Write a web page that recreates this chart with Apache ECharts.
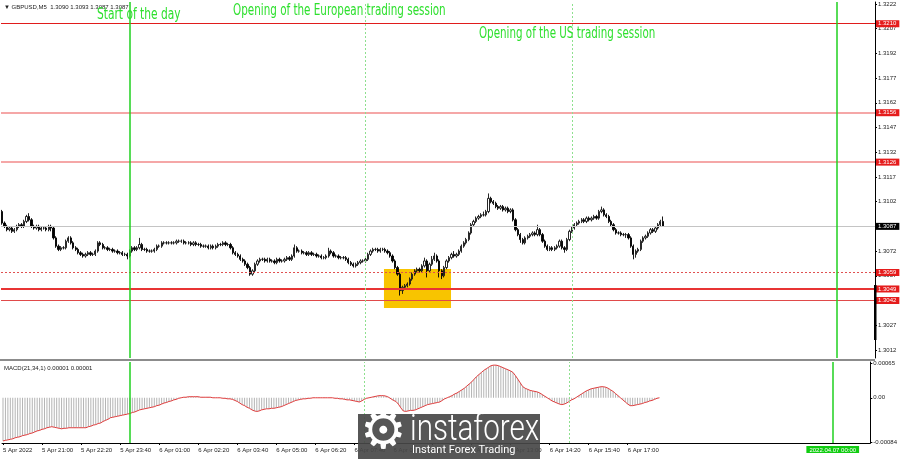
<!DOCTYPE html>
<html><head><meta charset="utf-8">
<script src="https://cdn.jsdelivr.net/npm/echarts@6/dist/echarts.min.js"></script>
<style>html,body{margin:0;padding:0;background:#fff}#c{width:900px;height:459px}</style>
</head><body><div id="c"></div><script>
// Prices in pips above 1.3000, one entry per 5-minute bar starting 5 Apr 19:40
const openPips = [96,89,87,85,86,84,85,87,88,87,
 90,93,91,87,86,87,85,86,86,85,
 87,86,80,75,73,74,74,78,80,77,
 74,73,71,70,69,70,71,70,70,72,
 77,76,74,74,73,73,72,72,71,71,
 70,70,69,72,74,73,74,76,73,73,
 72,72,72,73,75,75,77,77,77,77,
 77,77,78,78,78,77,77,77,76,77,
 76,76,75,75,75,74,75,74,75,76,
 76,77,76,76,74,71,70,69,67,66,
 64,62,58,60,64,66,67,67,66,67,
 66,66,65,67,66,66,67,68,67,69,
 74,72,72,71,71,70,71,70,70,69,
 69,68,68,69,72,71,69,69,68,68,
 68,67,65,64,63,64,65,66,66,67,
 70,72,73,73,72,73,73,72,71,69,
 66,62,58,48,50,51,52,55,58,60,
 61,60,63,66,60,64,67,69,66,60,
 57,62,66,68,70,69,70,72,75,77,
 79,83,88,90,92,93,94,94,96,104,
 102,101,99,98,99,97,98,96,97,91,
 85,82,79,77,80,81,82,83,82,85,
 82,78,75,73,74,73,74,75,78,74,
 73,79,84,86,88,89,90,91,90,92,
 91,92,93,92,96,97,94,93,90,88,
 85,83,83,82,82,82,80,75,70,72,
 73,78,80,81,83,85,84,86,88,90];
const closePips = [89,87,85,86,84,85,87,88,87,90,
 93,91,87,86,87,85,86,86,85,87,
 86,80,75,73,74,74,78,80,77,74,
 73,71,70,69,70,71,70,70,72,77,
 76,74,74,73,73,72,72,71,71,70,
 70,69,72,74,73,74,76,73,73,72,
 72,72,73,75,75,77,77,77,77,77,
 77,78,78,78,77,77,77,76,77,76,
 76,75,75,75,74,75,74,75,76,76,
 77,76,76,74,71,70,69,67,66,64,
 62,58,60,64,66,67,67,66,67,66,
 66,65,67,66,66,67,68,67,69,74,
 72,72,71,71,70,71,70,70,69,69,
 68,68,69,72,71,69,69,68,68,68,
 67,65,64,63,64,65,66,66,67,70,
 72,73,73,72,73,73,72,71,69,66,
 62,58,48,50,51,52,55,58,60,61,
 60,63,66,60,64,67,69,66,60,57,
 62,66,68,70,69,70,72,75,77,79,
 83,88,90,92,93,94,94,96,104,102,
 101,99,98,99,97,98,96,97,91,85,
 82,79,77,80,81,82,83,82,85,82,
 78,75,73,74,73,74,75,78,74,73,
 79,84,86,88,89,90,91,90,92,91,
 92,93,92,96,97,94,93,90,88,85,
 83,83,82,82,82,80,75,70,72,73,
 78,80,81,83,85,84,86,88,90,87];
const highPips = [97,90,88,87,87,86,88,89,89,91,
 94,95,92,88,88,88,87,87,87,88,
 88,87,81,76,75,75,79,81,81,78,
 75,74,72,71,71,72,72,71,73,78,
 78,77,75,75,74,74,73,73,72,72,
 71,71,73,75,75,75,80,77,74,74,
 73,73,74,76,76,78,78,78,78,78,
 78,79,79,79,79,78,78,78,78,78,
 77,77,76,76,76,76,76,76,77,77,
 78,78,77,77,75,72,71,70,68,67,
 65,63,61,65,67,68,68,68,68,68,
 67,67,68,68,67,68,69,69,70,76,
 75,73,73,72,72,72,72,71,71,70,
 70,69,70,74,73,72,70,70,69,69,
 69,68,66,65,65,66,67,67,68,71,
 73,74,74,74,74,74,74,73,72,70,
 67,63,59,51,52,53,56,59,61,62,
 62,64,68,67,65,69,71,70,67,61,
 63,67,69,71,72,71,73,76,78,80,
 84,89,91,93,94,95,96,97,107,105,
 103,102,100,100,100,99,99,98,98,92,
 86,83,80,81,82,83,84,84,88,86,
 83,79,76,75,75,75,76,79,79,75,
 80,85,87,89,90,91,92,92,93,93,
 93,94,94,97,99,98,95,94,91,89,
 86,84,84,83,83,83,81,76,73,74,
 79,81,82,84,86,86,87,89,91,93];
const lowPips = [88,86,84,84,83,83,84,86,86,86,
 89,90,86,85,85,84,84,85,84,84,
 84,79,74,72,72,73,73,77,76,73,
 72,70,69,68,68,69,69,69,69,71,
 75,73,73,72,72,71,71,70,70,69,
 69,67,68,71,72,72,73,72,72,71,
 71,71,71,72,74,74,76,76,76,76,
 76,76,77,77,76,76,76,75,75,75,
 75,74,74,74,73,73,73,73,74,75,
 75,75,75,73,70,69,68,66,65,63,
 61,57,57,59,63,65,66,65,65,65,
 65,64,64,65,65,65,66,66,66,68,
 71,71,70,70,69,69,69,69,68,68,
 67,67,67,68,70,68,68,67,67,67,
 66,64,63,62,62,63,64,65,65,66,
 69,71,72,71,71,72,71,70,68,65,
 61,57,45,46,49,50,51,54,57,59,
 59,59,62,56,59,63,66,65,56,55,
 56,61,65,67,68,68,69,71,74,76,
 78,82,87,89,91,92,93,93,95,101,
 100,98,97,97,96,96,95,95,90,84,
 81,77,76,76,79,80,81,81,81,81,
 77,74,72,72,72,72,73,74,73,71,
 72,78,83,85,87,88,89,89,89,90,
 90,91,91,91,95,93,92,89,87,84,
 82,82,81,81,80,79,74,67,68,71,
 72,77,79,80,82,83,83,85,87,87];
// MACD(21,34,1) in units of 0.00001
const macdVals = [-82,-81,-80,-79,-78,-76,-75,-74,-72,-71,
 -70,-68,-67,-65,-63,-62,-60,-59,-57,-56,
 -55,-56,-57,-58,-59,-58,-58,-57,-57,-57,
 -57,-57,-57,-57,-57,-55,-54,-52,-51,-49,
 -48,-45,-43,-41,-38,-37,-36,-35,-34,-33,
 -32,-31,-30,-28,-27,-25,-23,-22,-21,-20,
 -19,-18,-17,-15,-14,-12,-10,-9,-7,-6,
 -4,-3,-1,0,1,1,2,2,2,2,
 2,1,1,1,1,1,0,0,0,0,
 -1,-1,-2,-2,-3,-5,-7,-10,-13,-15,
 -18,-20,-23,-25,-26,-25,-23,-22,-21,-21,
 -20,-20,-19,-18,-17,-15,-13,-11,-9,-7,
 -5,-4,-3,-2,-2,-1,-1,0,0,0,
 0,0,0,0,0,0,-1,-1,-2,-2,
 -3,-4,-4,-5,-6,-7,-8,-6,-3,-1,
 0,1,2,3,4,4,4,3,1,-2,
 -5,-7,-12,-19,-25,-26,-25,-24,-24,-23,
 -21,-19,-17,-15,-13,-12,-11,-10,-9,-8,
 -5,-2,0,2,4,7,9,12,15,18,
 22,26,30,35,40,44,48,52,55,58,
 61,62,62,61,59,57,55,53,51,48,
 42,35,28,21,18,16,14,13,12,11,
 9,6,3,0,-3,-6,-8,-10,-12,-13,
 -12,-10,-7,-4,-2,1,4,7,10,13,
 15,17,18,19,20,21,21,20,18,15,
 12,8,4,0,-4,-8,-12,-15,-15,-14,
 -13,-12,-11,-9,-8,-6,-5,-3,-1,0];
const priceTicks = [1.3222,1.3207,1.3192,1.3177,1.3162,1.3147,1.3132,1.3117,1.3102,1.3072,1.3057,1.3042,1.3027,1.3012];
const macdTicks = [0.00065, 0, -0.00084];
const timeTickIdx = [0,16,32,48,64,80,96,112,128,144,160,176,192,208,224,240,256];
const timeTickText = ['5 Apr 2022','5 Apr 21:00','5 Apr 22:20','5 Apr 23:40','6 Apr 01:00','6 Apr 02:20','6 Apr 03:40','6 Apr 05:00','6 Apr 06:20','6 Apr 07:40','6 Apr 09:00','6 Apr 10:20','6 Apr 11:40','6 Apr 13:00','6 Apr 14:20','6 Apr 15:40','6 Apr 17:00'];
const levels = [1.3210, 1.3156, 1.3126, 1.3059, 1.3049, 1.3042];
const currentPrice = 1.3087;
const sessionIdx = [52, 148, 232, 340]; // 6 Apr 00:00, 08:00, 15:00, 7 Apr 00:00
const boxIdx = [155.5, 182.8];
const boxPrice = [1.30611, 1.30375];
const nextDayText = '2022.04.07 00:00';

const P = v => 1.3 + v / 10000;
const candleData = closePips.map((c, i) => [i, P(openPips[i]), P(c), P(lowPips[i]), P(highPips[i])]);
const macdData = macdVals.map((v, i) => [i, v * 1e-5]);

const FONT = 'Liberation Sans, Arial, sans-serif';
const NARROW = '15px "Liberation Sans Narrow", "DejaVu Sans Condensed", sans-serif';
const levelStyles = [
  {color: '#e01c1c', width: 1, type: 'solid'},
  {color: '#f28a8a', width: 1.5, type: 'solid'},
  {color: '#f28a8a', width: 1.5, type: 'solid'},
  {color: '#e05050', width: 1, type: [2, 2]},
  {color: '#e83434', width: 2, type: 'solid'},
  {color: '#e04a4a', width: 1, type: 'solid'}
];
const badge = (bg) => ({show: true, position: 'end', distance: 1, formatter: p => Number(p.value).toFixed(4),
  color: '#fff', backgroundColor: bg, fontSize: 6, fontFamily: FONT, padding: [1, 3, 0, 2], lineHeight: 6});
const vStyles = [
  {color: '#1fd01f', width: 1.5, type: 'solid'},
  {color: '#8ee08e', width: 1, type: [2, 2]},
  {color: '#8ee08e', width: 1, type: [2, 2]},
  {color: '#1fd01f', width: 1.5, type: 'solid'}
];
const mainLines = levels.map((v, k) => ({yAxis: v, lineStyle: levelStyles[k], label: badge('#e51c1c')}))
  .concat([{yAxis: currentPrice, lineStyle: {color: '#c4c4c4', width: 1, type: 'solid'}, label: badge('#000')}])
  .concat(sessionIdx.map((x, k) => ({xAxis: x, lineStyle: vStyles[k], label: {show: false}})));
const macdLines = sessionIdx.map((x, k) => ({xAxis: x, lineStyle: vStyles[k],
  label: k === 3 ? {show: true, position: 'start', distance: 3, formatter: nextDayText, color: '#fff',
    backgroundColor: '#11cc11', fontSize: 6, fontFamily: FONT, padding: [1, 3, 0, 3]} : {show: false}}));

const chart = echarts.init(document.getElementById('c'), null, {renderer: 'canvas'});
const XMIN = -0.4, XMAX = 355.4;
chart.setOption({
  animation: false,
  backgroundColor: '#fff',
  grid: [
    {left: 1, right: 25, top: 2, height: 356, containLabel: false},
    {left: 1, right: 25, top: 362, height: 81, containLabel: false}
  ],
  xAxis: [
    {type: 'value', gridIndex: 0, min: XMIN, max: XMAX, axisLine: {show: false, onZero: false}, axisTick: {show: false}, axisLabel: {show: false}, splitLine: {show: false}},
    {type: 'value', gridIndex: 1, min: XMIN, max: XMAX, position: 'bottom',
      axisLine: {show: true, onZero: false, lineStyle: {color: '#000', width: 1}},
      axisTick: {show: true, length: 2, customValues: timeTickIdx, lineStyle: {color: '#000'}},
      axisLabel: {show: true, customValues: timeTickIdx, formatter: v => timeTickText[timeTickIdx.indexOf(Math.round(v))] || '',
        fontSize: 6, fontFamily: FONT, color: '#222', align: 'left', margin: 4},
      splitLine: {show: false}}
  ],
  yAxis: [
    {type: 'value', gridIndex: 0, position: 'right', min: 1.30071, max: 1.32232, scale: true,
      axisLine: {show: true, onZero: false, lineStyle: {color: '#000', width: 1}},
      axisTick: {show: true, length: 2, customValues: priceTicks, lineStyle: {color: '#000'}},
      axisLabel: {customValues: priceTicks, formatter: v => v.toFixed(4), fontSize: 6, fontFamily: FONT, color: '#222', margin: 3},
      splitLine: {show: false}},
    {type: 'value', gridIndex: 1, position: 'right', min: -0.00086, max: 0.00068,
      axisLine: {show: true, onZero: false, lineStyle: {color: '#000', width: 1}},
      axisTick: {show: true, length: 2, customValues: macdTicks, lineStyle: {color: '#000'}},
      axisLabel: {customValues: macdTicks, formatter: v => Math.abs(v) < 1e-9 ? '0.00' : v.toFixed(5), fontSize: 6, fontFamily: FONT, color: '#222', margin: 3},
      splitLine: {show: false}}
  ],
  series: [
    {type: 'candlestick', xAxisIndex: 0, yAxisIndex: 0, data: candleData, encode: {x: 0, y: [1, 2, 3, 4]},
      barWidth: 1.8, z: 3,
      itemStyle: {color: '#ffffff', color0: '#000000', borderColor: '#111', borderColor0: '#000000', borderWidth: 0.9},
      markArea: {silent: true, itemStyle: {color: '#f8c400', opacity: 1},
        data: [[{coord: [boxIdx[0], boxPrice[0]]}, {coord: [boxIdx[1], boxPrice[1]]}]]},
      markLine: {silent: true, precision: 5, symbol: ['none', 'none'], animation: false, data: mainLines}
    },
    {type: 'bar', xAxisIndex: 1, yAxisIndex: 1, data: macdData, barWidth: 1, itemStyle: {color: '#b4b4b4'}, z: 2},
    {type: 'line', xAxisIndex: 1, yAxisIndex: 1, data: macdData, showSymbol: false, symbol: 'none',
      lineStyle: {color: '#e03c3c', width: 1}, z: 3,
      markLine: {silent: true, precision: 5, symbol: ['none', 'none'], animation: false, data: macdLines}}
  ],
  graphic: [
    {type: 'rect', shape: {x: 0, y: 359, width: 875, height: 2}, style: {fill: '#8c8c8c'}, z: 10},
    {type: 'rect', shape: {x: 874, y: 285, width: 2.5, height: 55}, style: {fill: '#000'}, z: 10},
    {type: 'text', x: 4, y: 4, style: {text: '▼ GBPUSD,M5  1.3090 1.3093 1.3087 1.3087', font: '6px ' + FONT, fill: '#222', verticalAlign: 'top'}, z: 10},
    {type: 'text', x: 4, y: 365, style: {text: 'MACD(21,34,1) 0.00001 0.00001', font: '6px ' + FONT, fill: '#222', verticalAlign: 'top'}, z: 10},
    {type: 'text', x: 97, y: 8, scaleX: 0.79, style: {text: 'Start of the day', font: NARROW, fill: '#2ee02e', verticalAlign: 'top'}, z: 10},
    {type: 'text', x: 233, y: 4, scaleX: 0.77, style: {text: 'Opening of the European trading session', font: NARROW, fill: '#2ee02e', verticalAlign: 'top'}, z: 10},
    {type: 'text', x: 479, y: 27, scaleX: 0.765, style: {text: 'Opening of the US trading session', font: NARROW, fill: '#2ee02e', verticalAlign: 'top'}, z: 10},
    {type: 'rect', shape: {x: 358, y: 414, width: 182, height: 45}, style: {fill: 'rgba(72,72,72,0.92)'}, z: 20},
    {type: 'text', x: 360, y: 408, style: {text: '⚙', font: '52px "DejaVu Sans"', fill: '#fff', verticalAlign: 'top'}, z: 21},
    {type: 'text', x: 410, y: 412, scaleX: 0.8, style: {text: 'instaforex', font: '300 37px Roboto, sans-serif', fill: '#fff', verticalAlign: 'top'}, z: 21},
    {type: 'text', x: 412, y: 445, style: {text: 'Instant Forex Trading', font: '11px Roboto, sans-serif', fill: '#fff', verticalAlign: 'top'}, z: 21}
  ]
});
</script></body></html>
